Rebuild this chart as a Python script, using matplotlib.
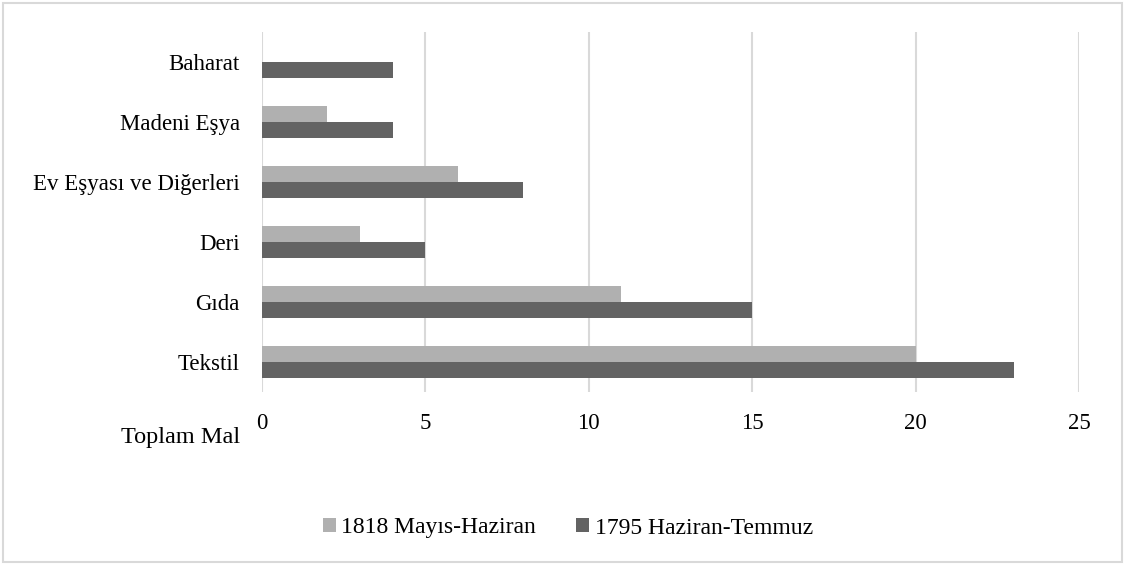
import matplotlib.pyplot as plt
import numpy as np
from matplotlib.patches import Rectangle

# categories bottom -> top, as drawn
categories = ['Tekstil', 'Gıda', 'Deri', 'Ev Eşyası ve Diğerleri', 'Madeni Eşya', 'Baharat']
val_1818 = [20, 11, 3, 6, 2, 0]
val_1795 = [23, 15, 5, 8, 4, 4]
series_names = ['1818 Mayıs-Haziran', '1795 Haziran-Temmuz']
xticks = [0, 5, 10, 15, 20, 25]

plt.rcParams['font.family'] = ['Liberation Serif', 'DejaVu Serif']

fig = plt.figure(figsize=(11.27, 5.64), dpi=100)
ax = fig.add_axes([0.2325, 0.305, 0.7249, 0.6383])

y = np.arange(len(categories))
h = 0.265
ax.barh(y + h / 2, val_1818, height=h, color='#b0b0b0', label=series_names[0], zorder=3)
ax.barh(y - h / 2, val_1795, height=h, color='#636363', label=series_names[1], zorder=3)

ax.set_xlim(0, 25)
ax.set_ylim(-0.5, len(categories) - 0.5)
ax.set_xticks(xticks)
ax.set_yticks(y)
ax.set_yticklabels(categories)
ax.tick_params(length=0, labelsize=16.5)
ax.tick_params(axis='x', pad=15)
ax.tick_params(axis='y', pad=16)
ax.grid(axis='x', color='#d9d9d9', linewidth=1.5, zorder=0)
for s in ax.spines.values():
    s.set_visible(False)

fig.text(181 / 1127, 1 - 438 / 564, 'Toplam Mal', fontsize=17.5, ha='center', va='center')

leg = fig.legend(loc='center', bbox_to_anchor=(568 / 1127, 1 - 528 / 564), ncol=2,
                 frameon=False, fontsize=17, handlelength=0.55, handleheight=0.55,
                 handletextpad=0.25, columnspacing=1.7)

fig.patches.append(Rectangle((3 / 1127, 2 / 564), 1119 / 1127, 559 / 564, transform=fig.transFigure,
                             fill=False, edgecolor='#d9d9d9', linewidth=1.5))

fig.savefig('out.png', dpi=100)
